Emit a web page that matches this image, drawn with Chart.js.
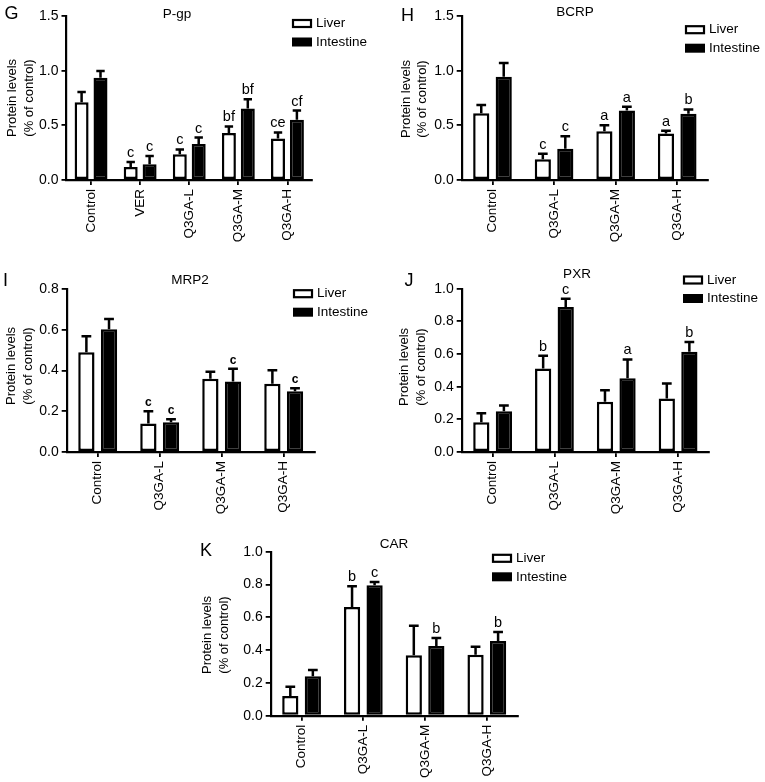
<!DOCTYPE html>
<html>
<head>
<meta charset="utf-8">
<script src="https://cdn.jsdelivr.net/npm/chart.js@4.4.1/dist/chart.umd.min.js"></script>
<style>
  html, body { margin: 0; padding: 0; background: #fff; }
  #wrap { position: relative; width: 765px; height: 782px; overflow: hidden; }
  canvas { position: absolute; }
</style>
</head>
<body>
<div id="wrap"></div>
<script>
// ---- data ----
const seriesNames = ['Liver', 'Intestine'];
const yTitleLines = ['Protein levels', '(% of control)'];
const groups4 = ['Control', 'Q3GA-L', 'Q3GA-M', 'Q3GA-H'];

// G: P-gp
const pgpCats = ['Control', 'VER', 'Q3GA-L', 'Q3GA-M', 'Q3GA-H'];
const pgpLiver = [0.71, 0.12, 0.235, 0.43, 0.38];
const pgpLiverErr = [0.095, 0.045, 0.045, 0.06, 0.055];
const pgpIntestine = [0.935, 0.145, 0.33, 0.655, 0.55];
const pgpIntestineErr = [0.062, 0.075, 0.058, 0.083, 0.085];
const pgpLiverSig = ['', 'c', 'c', 'bf', 'ce'];
const pgpIntestineSig = ['', 'c', 'c', 'bf', 'cf'];
const pgpTicks = [0, 0.5, 1.0, 1.5];

// H: BCRP
const bcrpLiver = [0.61, 0.19, 0.445, 0.425];
const bcrpLiverErr = [0.075, 0.05, 0.055, 0.025];
const bcrpIntestine = [0.945, 0.285, 0.635, 0.605];
const bcrpIntestineErr = [0.125, 0.115, 0.035, 0.04];
const bcrpLiverSig = ['', 'c', 'a', 'a'];
const bcrpIntestineSig = ['', 'c', 'a', 'b'];
const bcrpTicks = [0, 0.5, 1.0, 1.5];

// I: MRP2
const mrp2Liver = [0.49, 0.14, 0.36, 0.335];
const mrp2LiverErr = [0.078, 0.06, 0.034, 0.066];
const mrp2Intestine = [0.603, 0.146, 0.346, 0.298];
const mrp2IntestineErr = [0.05, 0.015, 0.062, 0.015];
const mrp2LiverSig = ['', 'c', '', ''];
const mrp2IntestineSig = ['', 'c', 'c', 'c'];
const mrp2Ticks = [0, 0.2, 0.4, 0.6, 0.8];

// J: PXR
const pxrLiver = [0.182, 0.512, 0.308, 0.328];
const pxrLiverErr = [0.055, 0.078, 0.07, 0.092];
const pxrIntestine = [0.249, 0.888, 0.451, 0.614];
const pxrIntestineErr = [0.035, 0.05, 0.116, 0.06];
const pxrLiverSig = ['', 'b', '', ''];
const pxrIntestineSig = ['', 'c', 'a', 'b'];
const pxrTicks = [0, 0.2, 0.4, 0.6, 0.8, 1.0];

// K: CAR
const carLiver = [0.12, 0.663, 0.368, 0.372];
const carLiverErr = [0.057, 0.126, 0.181, 0.049];
const carIntestine = [0.24, 0.795, 0.425, 0.455];
const carIntestineErr = [0.038, 0.02, 0.049, 0.055];
const carLiverSig = ['', 'b', '', ''];
const carIntestineSig = ['', 'c', 'b', 'b'];
const carTicks = [0, 0.2, 0.4, 0.6, 0.8, 1.0];

const FONT = "'Liberation Sans', Arial, Helvetica, sans-serif";

// ---- layout (page coords) ----
const panels = [
  { letter: 'G', title: 'P-gp', cats: pgpCats, liver: pgpLiver, liverErr: pgpLiverErr, intestine: pgpIntestine, intestineErr: pgpIntestineErr,
    liverSig: pgpLiverSig, intestineSig: pgpIntestineSig, ticks: pgpTicks,
    box: [0, 0, 380, 260], plot: [66.5, 16, 312, 180], letterPos: [4.5, 19], titlePos: [177, 18], legend: [292, 23.5],
    yTitleX: [12, 29], yTitleY: 98, cp: 0.77, bp: 0.74, sigFont: 'normal 14.5px' },
  { letter: 'H', title: 'BCRP', cats: groups4, liver: bcrpLiver, liverErr: bcrpLiverErr, intestine: bcrpIntestine, intestineErr: bcrpIntestineErr,
    liverSig: bcrpLiverSig, intestineSig: bcrpIntestineSig, ticks: bcrpTicks,
    box: [382, 0, 383, 260], plot: [461.7, 16, 708, 180], letterPos: [401, 20.5], titlePos: [575, 15.5], legend: [685, 29.7],
    yTitleX: [406, 422], yTitleY: 99, cp: 0.73, bp: 0.72, sigFont: 'normal 14.5px' },
  { letter: 'I', title: 'MRP2', cats: groups4, liver: mrp2Liver, liverErr: mrp2LiverErr, intestine: mrp2Intestine, intestineErr: mrp2IntestineErr,
    liverSig: mrp2LiverSig, intestineSig: mrp2IntestineSig, ticks: mrp2Ticks,
    box: [0, 262, 380, 268], plot: [66.7, 289, 314.7, 452], letterPos: [3, 285.5], titlePos: [190, 284], legend: [293, 293.7],
    yTitleX: [11, 28], yTitleY: 366, cp: 0.73, bp: 0.72, sigFont: 'bold 12px' },
  { letter: 'J', title: 'PXR', cats: groups4, liver: pxrLiver, liverErr: pxrLiverErr, intestine: pxrIntestine, intestineErr: pxrIntestineErr,
    liverSig: pxrLiverSig, intestineSig: pxrIntestineSig, ticks: pxrTicks,
    box: [382, 262, 383, 268], plot: [461.7, 288.7, 709, 452], letterPos: [404.5, 285.5], titlePos: [577, 277.5], legend: [683, 280],
    yTitleX: [404, 421], yTitleY: 367, cp: 0.73, bp: 0.72, sigFont: 'normal 14.5px' },
  { letter: 'K', title: 'CAR', cats: groups4, liver: carLiver, liverErr: carLiverErr, intestine: carIntestine, intestineErr: carIntestineErr,
    liverSig: carLiverSig, intestineSig: carIntestineSig, ticks: carTicks,
    box: [180, 532, 400, 250], plot: [270.7, 551.7, 517.7, 715.7], letterPos: [200, 555.5], titlePos: [394, 547.5], legend: [492, 558.3],
    yTitleX: [207.5, 224], yTitleY: 635, cp: 0.73, bp: 0.72, sigFont: 'normal 14.5px' }
];

// error bars, significance letters, panel labels and legend
function decor(p) {
  const ox = p.box[0], oy = p.box[1];
  return {
    id: 'decor' + p.letter,
    afterDatasetsDraw(chart) {
      const ctx = chart.ctx, y = chart.scales.y;
      const errs = [p.liverErr, p.intestineErr];
      const sigs = [p.liverSig, p.intestineSig];
      ctx.save();
      ctx.strokeStyle = '#000';
      ctx.fillStyle = '#000';
      ctx.lineWidth = 2.5;
      ctx.font = p.sigFont + ' ' + FONT;
      ctx.textAlign = 'center';
      ctx.textBaseline = 'alphabetic';
      chart.data.datasets.forEach((ds, i) => {
        chart.getDatasetMeta(i).data.forEach((bar, j) => {
          const top = y.getPixelForValue(ds.data[j] + errs[i][j]);
          const half = bar.width * 0.3;
          ctx.beginPath();
          ctx.moveTo(bar.x, bar.y);
          ctx.lineTo(bar.x, top);
          ctx.moveTo(bar.x - half, top);
          ctx.lineTo(bar.x + half, top);
          ctx.stroke();
          if (sigs[i][j]) ctx.fillText(sigs[i][j], bar.x, top - 5);
        });
      });
      ctx.restore();
    },
    afterDraw(chart) {
      const ctx = chart.ctx;
      ctx.save();
      ctx.fillStyle = '#000';
      ctx.strokeStyle = '#000';
      // panel letter
      ctx.font = '18px ' + FONT;
      ctx.textAlign = 'left';
      ctx.textBaseline = 'alphabetic';
      ctx.fillText(p.letter, p.letterPos[0] - ox, p.letterPos[1] - oy);
      // title
      ctx.font = '13.5px ' + FONT;
      ctx.textAlign = 'center';
      ctx.fillText(p.title, p.titlePos[0] - ox, p.titlePos[1] - oy);
      // legend
      const lx = p.legend[0] - ox, ly = p.legend[1] - oy, gap = 18.5;
      ctx.lineWidth = 2.2;
      ctx.fillStyle = '#fff';
      ctx.fillRect(lx + 1, ly - 3.5, 18, 7);
      ctx.strokeRect(lx + 1, ly - 3.5, 18, 7);
      ctx.fillStyle = '#000';
      ctx.fillRect(lx, ly + gap - 4.5, 20, 9);
      ctx.font = '13.5px ' + FONT;
      ctx.textAlign = 'left';
      ctx.textBaseline = 'middle';
      ctx.fillText(seriesNames[0], lx + 24, ly);
      ctx.fillText(seriesNames[1], lx + 24, ly + gap);
      // y axis title
      ctx.font = '13px ' + FONT;
      ctx.textAlign = 'center';
      yTitleLines.forEach((t, k) => {
        ctx.save();
        ctx.translate(p.yTitleX[k] - ox, p.yTitleY - oy);
        ctx.rotate(-Math.PI / 2);
        ctx.fillText(t, 0, 0);
        ctx.restore();
      });
      ctx.restore();
    }
  };
}

const wrap = document.getElementById('wrap');
panels.forEach(p => {
  const cv = document.createElement('canvas');
  cv.width = p.box[2];
  cv.height = p.box[3];
  cv.style.left = p.box[0] + 'px';
  cv.style.top = p.box[1] + 'px';
  cv.style.width = p.box[2] + 'px';
  cv.style.height = p.box[3] + 'px';
  wrap.appendChild(cv);

  new Chart(cv.getContext('2d'), {
    type: 'bar',
    data: {
      labels: p.cats,
      datasets: [
        { label: seriesNames[0], data: p.liver, backgroundColor: '#fff', borderColor: '#000', borderWidth: 2.5,
          borderSkipped: false, categoryPercentage: p.cp, barPercentage: p.bp },
        { label: seriesNames[1], data: p.intestine, backgroundColor: '#000', borderColor: '#000', borderWidth: 2.5,
          borderSkipped: false, categoryPercentage: p.cp, barPercentage: p.bp }
      ]
    },
    options: {
      responsive: false,
      animation: false,
      devicePixelRatio: 1,
      layout: {
        padding: { left: 0, bottom: 0, top: p.plot[1] - p.box[1], right: p.box[0] + p.box[2] - p.plot[2] }
      },
      plugins: { legend: { display: false }, tooltip: { enabled: false } },
      scales: {
        x: {
          z: 1,
          offset: true,
          grid: { offset: false, drawOnChartArea: false, color: '#000', lineWidth: 1.8, tickLength: 5 },
          border: { color: '#000', width: 2.2 },
          ticks: { color: '#000', font: { family: FONT, size: 13.5 }, minRotation: 90, maxRotation: 90, autoSkip: false, padding: 4 },
          afterFit(s) { s.height = p.box[1] + p.box[3] - p.plot[3]; }
        },
        y: {
          z: 1,
          min: 0,
          max: p.ticks[p.ticks.length - 1],
          afterBuildTicks(s) { s.ticks = p.ticks.map(v => ({ value: v })); },
          grid: { drawOnChartArea: false, color: '#000', lineWidth: 1.8, tickLength: 5 },
          border: { color: '#000', width: 2.2 },
          ticks: { color: '#000', font: { family: FONT, size: 14 }, padding: 3, callback: v => Number(v).toFixed(1) },
          afterFit(s) { s.width = p.plot[0] - p.box[0]; }
        }
      }
    },
    plugins: [decor(p)]
  });
});
</script>
</body>
</html>
